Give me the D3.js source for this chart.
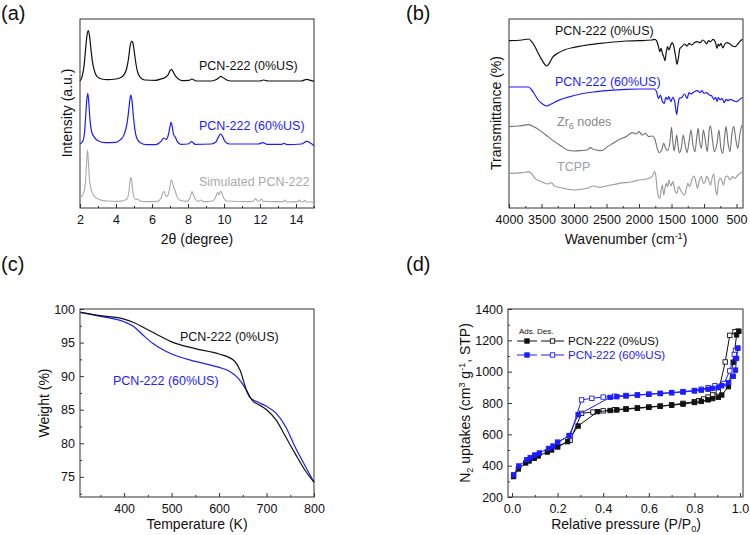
<!DOCTYPE html>
<html><head><meta charset="utf-8">
<script src="https://cdn.jsdelivr.net/npm/d3@7/dist/d3.min.js"></script>
<style>body{margin:0;background:#fff}</style>
</head><body><svg id="c" width="750" height="535"></svg>
<script>
// ---------- (a) XRD: [2theta, intensity (a.u.)] ----------
const xrd0US = [[2.0,381],[2.12,395],[2.22,424],[2.3,470],[2.38,515],[2.46,532],[2.54,512],[2.62,470],[2.72,430],[2.82,408],[2.95,394],[3.2,387],[3.5,385],[4.0,387],[4.3,392],[4.45,400],[4.6,420],[4.7,450],[4.78,485],[4.86,500],[4.92,498],[5.0,475],[5.1,435],[5.2,408],[5.35,392],[5.6,384],[6.2,383],[6.55,388],[6.75,392],[6.9,400],[7.0,412],[7.08,416],[7.16,410],[7.28,398],[7.45,388],[7.7,382],[8.05,383],[8.22,387],[8.45,381],[9.3,381],[9.6,386],[9.72,391],[9.82,395],[9.95,391],[10.15,384],[10.4,381],[12.0,381],[12.2,384],[12.45,381],[14.3,381],[14.6,386],[14.85,382],[15.0,380]];
const xrd60US = [[2.0,192],[2.15,200],[2.25,225],[2.32,280],[2.37,320],[2.43,344],[2.49,315],[2.56,262],[2.65,228],[2.8,212],[3.0,202],[3.4,196],[4.0,197],[4.25,205],[4.45,220],[4.6,250],[4.7,290],[4.77,325],[4.82,339],[4.88,325],[4.95,285],[5.05,235],[5.15,210],[5.35,196],[5.7,190],[6.2,190],[6.5,200],[6.65,210],[6.78,206],[6.92,222],[7.0,245],[7.06,257],[7.12,245],[7.2,220],[7.3,212],[7.4,200],[7.6,191],[8.0,192],[8.2,199],[8.4,191],[9.3,192],[9.55,198],[9.68,212],[9.8,222],[9.92,215],[10.05,200],[10.3,192],[11.9,192],[12.15,196],[12.4,191],[13.2,191],[13.35,194],[13.5,190],[14.3,192],[14.6,200],[14.8,195],[15.0,187]];
const xrdSim = [[2.0,30],[2.15,40],[2.25,55],[2.32,90],[2.37,140],[2.42,174],[2.47,135],[2.53,85],[2.62,55],[2.8,35],[3.1,25],[3.5,21],[4.2,20],[4.6,26],[4.72,50],[4.8,88],[4.84,91],[4.9,65],[4.98,35],[5.1,26],[5.2,27],[5.35,21],[5.7,19],[6.3,20],[6.5,30],[6.62,48],[6.68,49],[6.78,35],[6.88,38],[6.98,60],[7.07,84],[7.12,80],[7.2,62],[7.27,55],[7.38,35],[7.55,23],[7.9,20],[8.1,28],[8.22,49],[8.3,40],[8.42,25],[8.6,20],[8.72,24],[8.85,19],[9.4,22],[9.55,35],[9.65,46],[9.72,40],[9.8,50],[9.88,46],[9.98,30],[10.15,21],[11.5,19],[11.68,23],[11.76,28],[11.85,21],[11.98,21],[12.07,27],[12.18,20],[13.3,19],[13.38,24],[13.5,18],[14.1,19],[14.18,24],[14.28,18],[14.42,19],[14.48,23],[14.58,18],[15.0,18]];
const xrdTicks = [2,4,6,8,10,12,14];
const xrdMinor = [3,5,7,9,11,13,15];

// ---------- (b) FTIR: [wavenumber, transmittance (a.u.)] ----------
const ir0US = [[4000,502],[3800,504],[3700,507],[3650,499],[3600,484],[3550,464],[3500,446],[3450,431],[3420,426],[3380,434],[3330,452],[3250,464],[3150,474],[3000,482],[2800,489],[2600,494],[2400,498],[2200,501],[2000,502],[1800,504],[1760,506],[1730,502],[1700,484],[1680,469],[1660,479],[1640,464],[1620,454],[1600,442],[1580,469],[1560,484],[1540,474],[1510,489],[1490,496],[1470,489],[1440,459],[1415,431],[1395,449],[1370,479],[1340,484],[1300,492],[1260,486],[1230,494],[1190,489],[1150,496],[1100,499],[1060,496],[1020,504],[990,500],[960,492],[930,502],[900,499],[860,506],[820,494],[800,479],[780,492],[760,486],[740,494],[710,480],[680,492],[650,496],[600,492],[560,486],[520,484],[480,492],[450,499],[410,506]];
const ir60US = [[4000,363],[3700,363],[3650,354],[3600,339],[3550,324],[3500,314],[3420,306],[3350,312],[3250,322],[3100,332],[2900,342],[2700,348],[2500,352],[2200,356],[2000,357],[1760,357],[1730,349],[1700,329],[1670,339],[1640,319],[1610,314],[1590,332],[1560,326],[1540,334],[1510,319],[1480,332],[1450,319],[1420,281],[1400,309],[1380,329],[1340,332],[1300,342],[1260,329],[1230,346],[1200,342],[1150,349],[1100,352],[1060,346],[1030,352],[1000,344],[960,346],[920,339],[880,336],[850,326],[820,332],[800,319],[780,332],[750,324],[720,329],[690,316],[660,326],[630,322],[600,326],[550,322],[500,319],[460,324],[410,332]];
const irZr6 = [[4000,244],[3850,246],[3700,250],[3600,242],[3500,229],[3400,214],[3300,199],[3200,186],[3100,174],[3000,171],[2900,172],[2800,174],[2750,181],[2700,176],[2600,172],[2550,174],[2500,182],[2400,194],[2300,206],[2200,214],[2100,226],[2050,222],[2000,229],[1950,219],[1900,224],[1850,214],[1800,216],[1760,209],[1720,179],[1690,166],[1650,174],[1620,194],[1590,179],[1560,172],[1520,204],[1500,242],[1480,199],[1460,171],[1440,194],[1420,219],[1400,189],[1380,166],[1350,179],[1320,219],[1290,189],[1260,166],[1230,199],[1200,234],[1170,189],[1140,169],[1110,214],[1090,239],[1070,204],[1040,179],[1010,234],[980,204],[950,169],[920,234],[900,246],[870,204],[840,169],[800,194],[770,234],[740,179],[710,164],[680,219],[660,244],[630,194],[600,169],[570,224],[540,244],[510,204],[480,179],[450,219],[420,246],[410,249]];
const irTCPP = [[4000,104],[3800,106],[3700,109],[3650,102],[3600,89],[3500,79],[3400,72],[3350,76],[3300,66],[3200,61],[3000,54],[2800,59],[2700,66],[2600,62],[2500,66],[2300,74],[2100,79],[2000,84],[1900,86],[1800,94],[1760,109],[1740,94],[1720,54],[1700,34],[1680,29],[1660,54],[1640,69],[1620,39],[1600,59],[1580,74],[1560,64],[1540,84],[1510,66],[1480,79],[1450,54],[1420,44],[1390,64],[1350,49],[1300,39],[1270,59],[1250,74],[1220,64],[1180,89],[1150,96],[1120,74],[1100,59],[1070,84],[1040,94],[1010,74],[980,79],[960,96],[930,84],[900,69],[870,94],[850,102],[820,54],[800,39],[780,74],[750,89],[720,79],[700,69],[670,94],[640,96],[600,84],[560,94],[520,89],[480,99],[440,104],[410,109]];
const irTicks = [4000,3500,3000,2500,2000,1500,1000,500];
const irMinor = [3750,3250,2750,2250,1750,1250,750];

// ---------- (c) TGA: [T (K), weight (%)] ----------
const tga0US = [[308,99.5],[350,99.0],[400,98.5],[420,98.0],[450,96.9],[480,95.8],[500,95.1],[550,94.1],[600,93.3],[630,92.4],[644,90.9],[658,87.9],[670,86.4],[685,85.7],[700,85.0],[720,83.5],[740,81.0],[760,78.5],[780,76.1],[800,74.2]];
const tga60US = [[308,99.5],[350,98.9],[400,98.1],[420,97.4],[440,96.1],[460,94.9],[480,94.0],[500,93.3],[550,92.2],[600,91.3],[620,90.8],[640,89.7],[655,88.2],[665,86.8],[680,86.2],[700,85.5],[720,84.5],[740,82.5],[760,79.5],[780,76.8],[800,74.2]];
const tgaXTicks = [400,500,600,700,800];
const tgaXMinor = [350,450,550,650,750];
const tgaYTicks = [75,80,85,90,95,100];
const tgaYMinor = [72.5,77.5,82.5,87.5,92.5,97.5];

// ---------- (d) N2 isotherms: [P/P0, uptake] ----------
const ads0US = [[0.007,330],[0.028,379],[0.06,417],[0.075,430],[0.098,447],[0.115,462],[0.155,487],[0.174,500],[0.2,521],[0.244,553],[0.29,653],[0.376,745],[0.43,752],[0.46,756],[0.5,760],[0.55,766],[0.6,772],[0.65,779],[0.7,786],[0.75,793],[0.8,803],[0.83,810],[0.86,820],[0.88,828],[0.905,836],[0.92,851],[0.949,904],[0.97,1060],[0.985,1235],[0.995,1258]];
const des0US = [[0.99,1258],[0.978,1255],[0.955,1232],[0.935,1062],[0.905,870],[0.88,852],[0.86,838],[0.84,826],[0.82,815],[0.8,808],[0.75,798],[0.7,788],[0.65,781],[0.6,775],[0.55,769],[0.5,763],[0.45,757],[0.4,750],[0.355,742],[0.305,734],[0.255,562],[0.2,520]];
const ads60US = [[0.007,342],[0.03,398],[0.065,438],[0.08,452],[0.1,468],[0.12,481],[0.16,510],[0.18,525],[0.2,548],[0.25,592],[0.29,725],[0.43,836],[0.46,840],[0.5,845],[0.55,850],[0.6,855],[0.65,860],[0.7,865],[0.75,870],[0.8,877],[0.83,882],[0.86,888],[0.88,893],[0.905,900],[0.92,910],[0.95,930],[0.97,970],[0.98,1010],[0.985,1085],[0.99,1150]];
const des60US = [[0.99,1150],[0.98,1135],[0.975,1110],[0.955,1005],[0.93,925],[0.89,910],[0.86,898],[0.83,888],[0.8,880],[0.75,873],[0.7,867],[0.65,862],[0.6,857],[0.55,852],[0.5,848],[0.45,843],[0.4,838],[0.35,830],[0.305,820],[0.255,592],[0.2,550]];
const isoXTicks = [0,0.2,0.4,0.6,0.8,1.0];
const isoXMinor = [0.1,0.3,0.5,0.7,0.9];
const isoYTicks = [200,400,600,800,1000,1200,1400];
const isoYMinor = [300,500,700,900,1100,1300];

// ---------- drawing ----------
const FONT = "'Liberation Sans', Arial, Helvetica, sans-serif";
const BLUE = "#1c1cff";
const FRAME = "#333";
const svg = d3.select('#c').attr('font-family', FONT);

function panel(o){
  const x = d3.scaleLinear().domain(o.xd).range([o.l, o.r]);
  const y = d3.scaleLinear().domain(o.yd).range([o.b, o.t]);
  const g = svg.append('g');
  const ax = g.append('g').attr('transform', `translate(0,${o.b})`)
    .call(d3.axisBottom(x).tickValues(o.xt).tickSize(-4).tickPadding(7).tickFormat(o.xf || d3.format('')));
  ax.select('.domain').remove();
  ax.selectAll('text').attr('font-size', 12.5).attr('fill', '#111').attr('font-family', FONT);
  ax.selectAll('line').attr('stroke', FRAME);
  const axm = g.append('g').attr('transform', `translate(0,${o.b})`)
    .call(d3.axisBottom(x).tickValues(o.xm).tickSize(-2).tickFormat(''));
  axm.select('.domain').remove();
  axm.selectAll('line').attr('stroke', FRAME);
  if (o.yt) {
    const ay = g.append('g').attr('transform', `translate(${o.l},0)`)
      .call(d3.axisLeft(y).tickValues(o.yt).tickSize(-4).tickPadding(5).tickFormat(d3.format('')));
    ay.select('.domain').remove();
    ay.selectAll('text').attr('font-size', 12.5).attr('fill', '#111').attr('font-family', FONT);
    ay.selectAll('line').attr('stroke', FRAME);
    const aym = g.append('g').attr('transform', `translate(${o.l},0)`)
      .call(d3.axisLeft(y).tickValues(o.ym).tickSize(-2).tickFormat(''));
    aym.select('.domain').remove();
    aym.selectAll('line').attr('stroke', FRAME);
  }
  g.append('rect').attr('x', o.l).attr('y', o.t).attr('width', o.r - o.l).attr('height', o.b - o.t)
    .attr('fill', 'none').attr('stroke', FRAME).attr('stroke-width', 1);
  return {x, y, g};
}

function curve(p, data, color, width, cv){
  const line = d3.line().x(d => p.x(d[0])).y(d => p.y(d[1])).curve(cv || d3.curveMonotoneX);
  p.g.append('path').datum(data).attr('d', line).attr('fill', 'none')
    .attr('stroke', color).attr('stroke-width', width || 1.2).attr('stroke-linejoin', 'round');
}

function label(x, y, str, color, size, anchor){
  return svg.append('text').attr('x', x).attr('y', y).attr('font-size', size || 12.5)
    .attr('fill', color || '#111').attr('text-anchor', anchor || 'start').text(str);
}

function titleText(sel, parts){
  parts.forEach(pt => {
    const s = sel.append('tspan').text(pt.t);
    if (pt.dy) s.attr('dy', pt.dy);
    if (pt.fs) s.attr('font-size', pt.fs);
  });
  return sel;
}
function ytitle(x, y, parts){
  return titleText(svg.append('text').attr('transform', `translate(${x},${y}) rotate(-90)`)
    .attr('text-anchor', 'middle').attr('font-size', 14).attr('fill', '#111'), parts);
}
function xtitle(x, y, parts){
  return titleText(svg.append('text').attr('x', x).attr('y', y)
    .attr('text-anchor', 'middle').attr('font-size', 14).attr('fill', '#111'), parts);
}

// panel letters
label(1, 20, '(a)', '#111', 20);
label(406, 20, '(b)', '#111', 20);
label(1, 271, '(c)', '#111', 20);
label(406, 271, '(d)', '#111', 20);

// ---- (a)
const pa = panel({l:80, r:314, t:19, b:208, xd:[2,15], yd:[0,567], xt:xrdTicks, xm:xrdMinor});
curve(pa, xrdSim, '#aaaaaa', 1.1);
curve(pa, xrd60US, BLUE, 1.2);
curve(pa, xrd0US, '#111', 1.2);
label(199, 70, 'PCN-222 (0%US)', '#111');
label(199, 130, 'PCN-222 (60%US)', BLUE);
label(199, 186, 'Simulated PCN-222', '#aaaaaa');
xtitle(197, 244, [{t:'2θ (degree)'}]);
ytitle(72, 113, [{t:'Intensity (a.u.)'}]);

// ---- (b)
const pb = panel({l:509, r:743, t:19, b:208, xd:[4000,400], yd:[0,567], xt:irTicks, xm:irMinor});
curve(pb, irTCPP, '#9a9a9a', 1.1);
curve(pb, irZr6, '#707070', 1.1);
curve(pb, ir60US, BLUE, 1.2);
curve(pb, ir0US, '#111', 1.2);
label(555, 35, 'PCN-222 (0%US)', '#111');
label(555, 85.5, 'PCN-222 (60%US)', BLUE);
const zr = label(557, 125.5, 'Zr', '#888');
zr.append('tspan').attr('font-size', 9).attr('dy', 3).text('6');
zr.append('tspan').attr('dy', -3).text(' nodes');
label(557, 171, 'TCPP', '#a0a0a0');
xtitle(626, 244, [{t:'Wavenumber (cm'},{t:'-1', fs:9, dy:-5},{t:')', dy:5}]);
ytitle(501, 113, [{t:'Transmittance (%)'}]);

// ---- (c)
const pc = panel({l:80, r:314, t:309, b:497, xd:[307,800], yd:[72,100], xt:tgaXTicks, xm:tgaXMinor, yt:tgaYTicks, ym:tgaYMinor});
curve(pc, tga60US, BLUE, 1.2);
curve(pc, tga0US, '#111', 1.2);
label(180, 340.5, 'PCN-222 (0%US)', '#111');
label(113, 385, 'PCN-222 (60%US)', BLUE);
xtitle(197, 529, [{t:'Temperature (K)'}]);
ytitle(49, 403, [{t:'Weight (%)'}]);

// ---- (d)
const pd = panel({l:508, r:743, t:309, b:497, xd:[-0.0175,1.013], yd:[200,1400], xt:isoXTicks, xm:isoXMinor, yt:isoYTicks, ym:isoYMinor, xf:d3.format('.1f')});
function iso(data, color, filled){
  curve(pd, data, color, 1, d3.curveLinear);
  pd.g.selectAll(null).data(data).enter().append('rect')
    .attr('x', d => pd.x(d[0]) - 2.2).attr('y', d => pd.y(d[1]) - 2.2)
    .attr('width', 4.4).attr('height', 4.4)
    .attr('fill', filled ? color : '#fff').attr('stroke', color).attr('stroke-width', 0.9);
}
iso(des0US, '#111', false);
iso(ads0US, '#111', true);
iso(des60US, BLUE, false);
iso(ads60US, BLUE, true);

// legend (d)
label(519, 334, 'Ads.', '#111', 8);
label(537, 334, 'Des.', '#111', 8);
function legRow(yy, color, txt){
  const lg = svg.append('g');
  lg.append('line').attr('x1', 517).attr('x2', 537).attr('y1', yy).attr('y2', yy).attr('stroke', color).attr('stroke-width', 1);
  lg.append('line').attr('x1', 541).attr('x2', 564).attr('y1', yy).attr('y2', yy).attr('stroke', color).attr('stroke-width', 1);
  lg.append('rect').attr('x', 527 - 2.2).attr('y', yy - 2.2).attr('width', 4.4).attr('height', 4.4).attr('fill', color).attr('stroke', color).attr('stroke-width', 0.9);
  lg.append('rect').attr('x', 552.5 - 2.2).attr('y', yy - 2.2).attr('width', 4.4).attr('height', 4.4).attr('fill', '#fff').attr('stroke', color).attr('stroke-width', 0.9);
  label(568, yy + 4.2, txt, color, 11.5);
}
legRow(341, '#111', 'PCN-222 (0%US)');
legRow(355, BLUE, 'PCN-222 (60%US)');
xtitle(626, 529, [{t:'Relative pressure (P/P'},{t:'0', fs:9, dy:3},{t:')', dy:-3}]);
ytitle(470, 403, [{t:'N'},{t:'2', fs:9, dy:3},{t:' uptakes (cm', dy:-3},{t:'3', fs:9, dy:-5},{t:' g', dy:5},{t:'-1', fs:9, dy:-5},{t:', STP)', dy:5}]);
</script></body></html>
